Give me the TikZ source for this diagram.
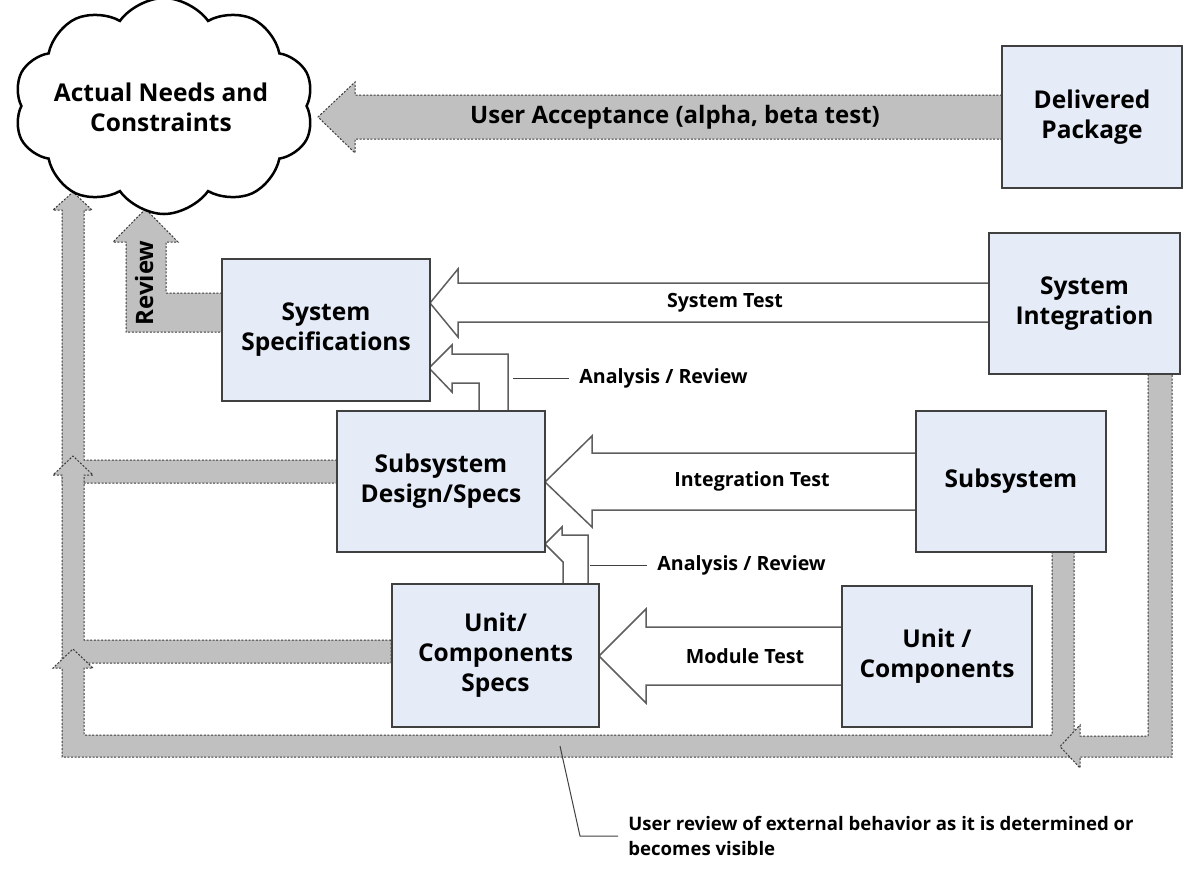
\documentclass[tikz,border=0pt]{standalone}
\usepackage{fontspec}
\setmainfont{Open Sans}
\usetikzlibrary{shapes.symbols}
\definecolor{boxfill}{HTML}{E5ECF7}
\definecolor{boxline}{HTML}{404040}
\definecolor{garrow}{HTML}{C0C0C0}
\definecolor{gline}{HTML}{3A3A3A}
\definecolor{oline}{HTML}{5E5E5E}
\pgfdeclarelayer{bg}
\pgfsetlayers{bg,main}
\begin{document}
\begin{tikzpicture}[x=0.5pt,y=-0.5pt,
  box/.style={draw=boxline,fill=boxfill,line width=0.75pt,align=center,inner sep=0pt,
    font=\bfseries\fontsize{12.25}{15}\selectfont},
  garr/.style={fill=garrow,draw=gline,line width=0.5pt,dash pattern=on 1pt off 0.8pt},
  oarr/.style={fill=white,draw=oline,line width=0.75pt,line join=miter},
  lbl/.style={font=\bfseries\fontsize{9.8}{12}\selectfont,inner sep=0pt},
  biglbl/.style={font=\bfseries\fontsize{12}{15}\selectfont,inner sep=0pt},
  callout/.style={draw=black!75,line width=0.5pt}]
\useasboundingbox (0,0) rectangle (1184,885);

% cloud
\node[cloud,cloud puffs=10,cloud puff arc=110,aspect=1.5,draw=black,line width=1.25pt,
  fill=white,minimum width=150pt,minimum height=108pt,inner sep=0pt] (needs) at (164,106) {};
\node[align=center,inner sep=0pt,font=\bfseries\fontsize{12.25}{15}\selectfont] (needslbl)
  at (161,107) {Actual Needs and\\Constraints};

% boxes
\node[box,minimum width=90pt,minimum height=71pt] (deliv) at (1092,117) {Delivered\\Package};
\node[box,minimum width=95.5pt,minimum height=70.5pt] (sysint) at (1084.5,303.5) {System\\Integration};
\node[box,minimum width=95pt,minimum height=70.5pt] (subsys) at (1011,481.5) {Subsystem};
\node[box,minimum width=95pt,minimum height=70.5pt] (unitc) at (937,656.5) {Unit /\\Components};
\node[box,minimum width=104pt,minimum height=71pt] (sysspec) at (326,330) {System\\Specifications};
\node[box,minimum width=104pt,minimum height=70.5pt] (subdes) at (441,481.5) {Subsystem\\Design/Specs};
\node[box,minimum width=103.5pt,minimum height=71.5pt] (unitspec) at (495.5,655.5) {Unit/\\Components\\Specs};

\begin{pgfonlayer}{bg}
% user acceptance
\draw[garr] (1002,95) -- (355,95) -- (355,82) -- (318,117) -- (355,153) -- (355,139) -- (1002,139) -- cycle;
% review
\draw[garr] (222,293) -- (166,293) -- (166,242) -- (178,242) -- (145.5,209) -- (113,242) -- (126,242) -- (126,332) -- (222,332) -- cycle;
% left column pieces
\draw[garr] (337,460) -- (84,460) -- (84,210) -- (92,210) -- (73,192) -- (53,210) -- (62,210) -- (62,483) -- (337,483) -- cycle;
\draw[garr] (391,640) -- (84,640) -- (84,475) -- (93,475) -- (73,456) -- (53,475) -- (62,475) -- (62,663) -- (391,663) -- cycle;
\draw[garr] (1074,552) -- (1074,757) -- (62,757) -- (62,668) -- (53,668) -- (73,649) -- (93,668) -- (84,668) -- (84,735) -- (1052,735) -- (1052,552) -- cycle;
\draw[garr] (1148,374) -- (1148,736) -- (1080,736) -- (1080,725) -- (1060,746.5) -- (1080,768) -- (1080,757) -- (1172,757) -- (1172,374) -- cycle;
% test arrows
\draw[oarr] (989,283) -- (458,283) -- (458,269) -- (430,303) -- (458,337) -- (458,322) -- (989,322) -- cycle;
\draw[oarr] (916,453) -- (592,453) -- (592,436) -- (545,482) -- (592,527) -- (592,510) -- (916,510) -- cycle;
\draw[oarr] (842,627) -- (646,627) -- (646,609) -- (599,656) -- (646,703) -- (646,685) -- (842,685) -- cycle;
% analysis / review arrows
\draw[oarr] (429,368) -- (452,345) -- (452,354) -- (508,354) -- (508,411) -- (479,411) -- (479,383) -- (452,383) -- (452,392) -- cycle;
\draw[oarr] (545,544) -- (562,527) -- (562,535) -- (588,535) -- (588,584) -- (563,584) -- (563,562) -- cycle;
\end{pgfonlayer}

% labels
\node[biglbl] (ualbl) at (675,117) {User Acceptance (alpha, beta test)};
\node[biglbl,rotate=90] (revlbl) at (144,283) {Review};
\node[lbl] (stlbl) at (725,303) {System Test};
\node[lbl] (itlbl) at (752,481) {Integration Test};
\node[lbl] (mtlbl) at (745,656) {Module Test};
\node[lbl,anchor=west] (ar1) at (579,378) {Analysis / Review};
\node[lbl,anchor=west] (ar2) at (657,565) {Analysis / Review};
\draw[callout] (513,378) -- ([xshift=-5pt]ar1.west);
\draw[callout] (590,565) -- ([xshift=-5pt]ar2.west);

\node[lbl,anchor=west,align=left,font=\bfseries\fontsize{9.3}{12.5}\selectfont] (note) at (628,836)
  {User review of external behavior as it is determined or\\becomes visible};
\coordinate (band) at (560,746);
\draw[callout] (band) -- (580,836) -- ([xshift=-5pt]note.west);
\end{tikzpicture}
\end{document}
